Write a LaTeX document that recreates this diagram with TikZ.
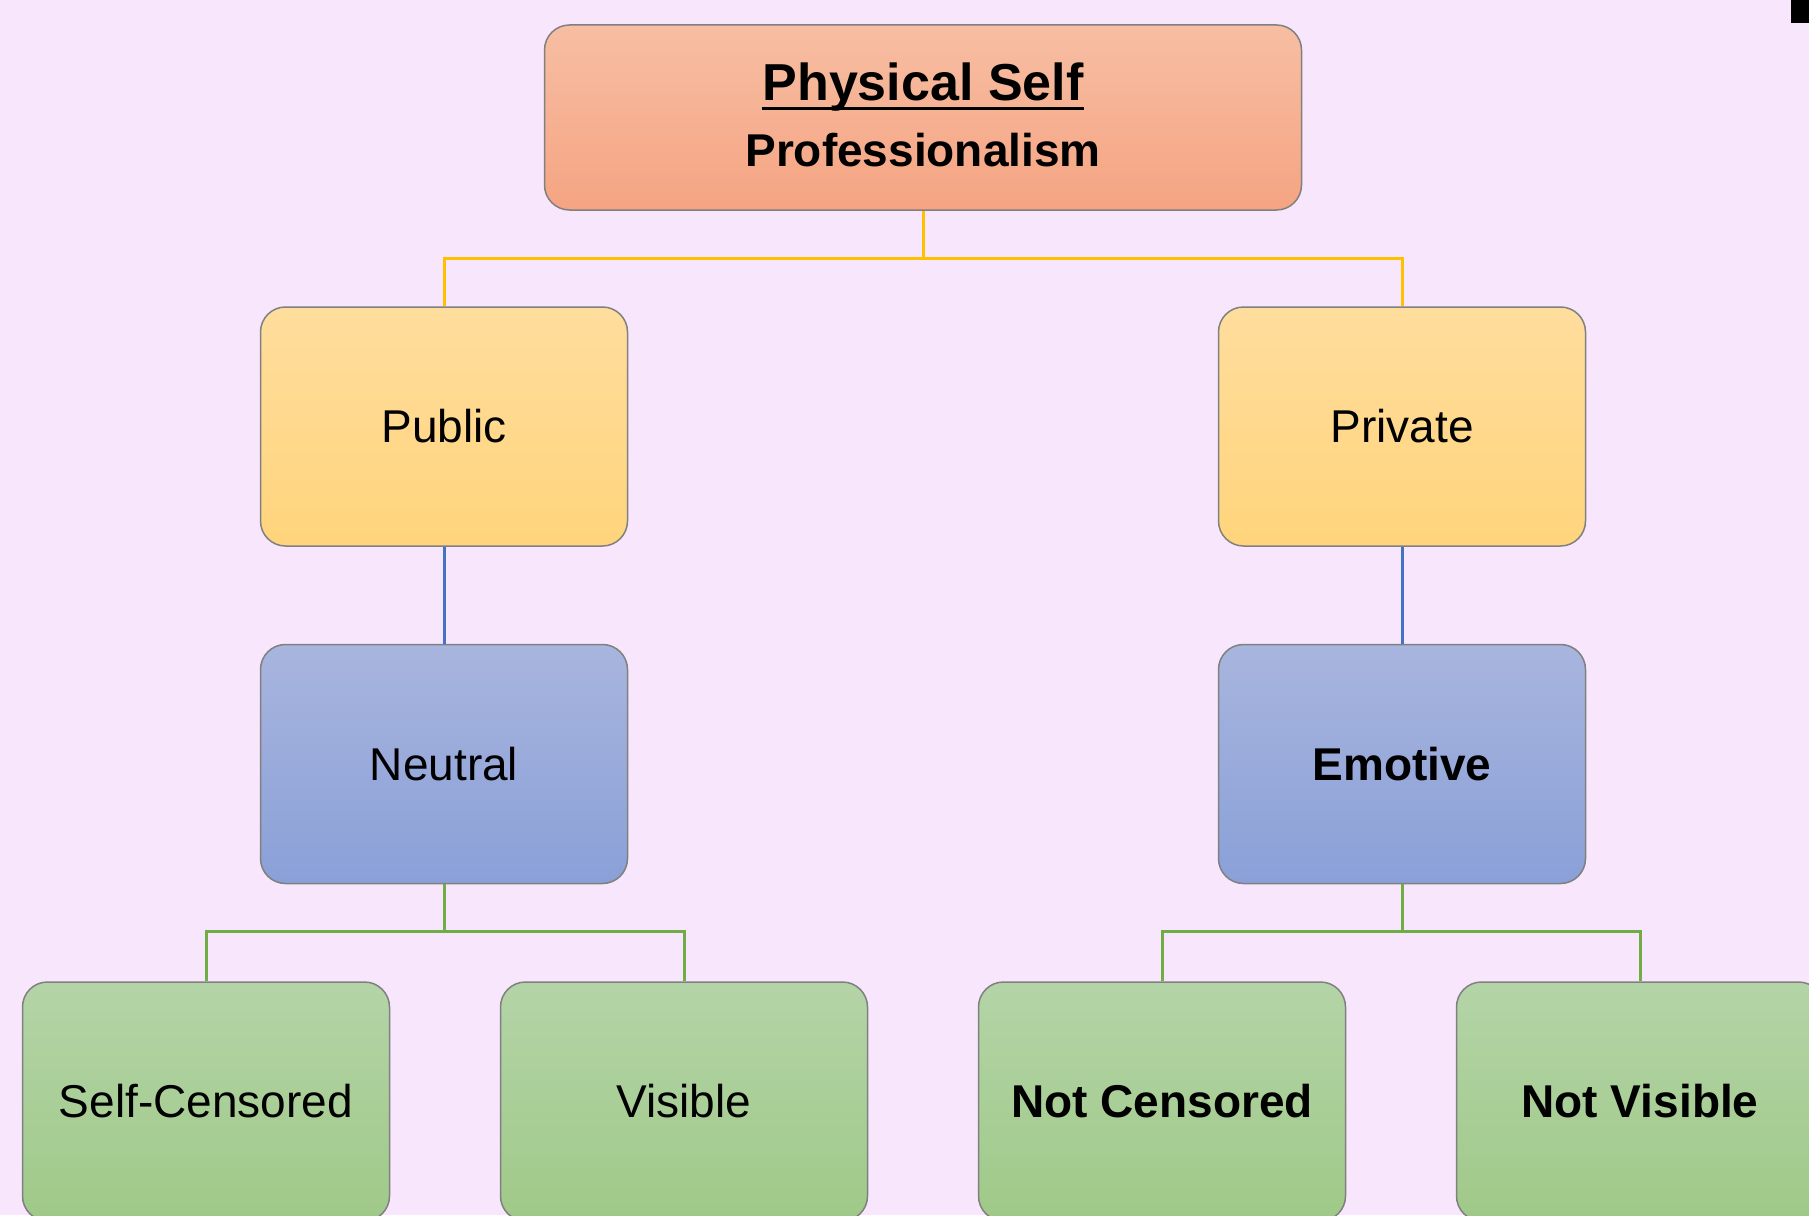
\documentclass[tikz,border=0pt]{standalone}
\usepackage{fontspec}
\setmainfont{Liberation Sans}

\definecolor{sfondo}{HTML}{F8E6FC}
\definecolor{arancioA}{HTML}{F7BEA3}
\definecolor{arancioB}{HTML}{F5A482}
\definecolor{gialloA}{HTML}{FFDD9D}
\definecolor{gialloB}{HTML}{FFD47C}
\definecolor{bluA}{HTML}{A8B5DE}
\definecolor{bluB}{HTML}{8AA0D8}
\definecolor{verdeA}{HTML}{B4D4A7}
\definecolor{verdeB}{HTML}{9FC988}
\definecolor{bordo}{HTML}{808080}
\definecolor{lineaGialla}{HTML}{FFC000}
\definecolor{lineaBlu}{HTML}{4472C4}
\definecolor{lineaVerde}{HTML}{70AD47}

\tikzset{
  scatola/.style={draw=bordo, line width=1.5pt, rounded corners=25pt,
    minimum width=367pt, minimum height=239pt, inner sep=0pt,
    font=\fontsize{46}{55}\selectfont},
  arancio/.style={scatola, top color=arancioA, bottom color=arancioB},
  giallo/.style={scatola, top color=gialloA, bottom color=gialloB},
  blu/.style={scatola, top color=bluA, bottom color=bluB},
  verde/.style={scatola, top color=verdeA, bottom color=verdeB},
  testo/.style={inner sep=0pt, anchor=base},
  filoGiallo/.style={draw=lineaGialla, line width=3pt},
  filoBlu/.style={draw=lineaBlu, line width=3pt},
  filoVerde/.style={draw=lineaVerde, line width=3pt}
}

\begin{document}
\begin{tikzpicture}[x=1pt, y=-1pt]
    % Sfondo
    \fill[sfondo] (0,0) rectangle (1809,1215);
    \useasboundingbox (0,0) rectangle (1809,1215);
    \clip (0,0) rectangle (1809,1215);
    \fill[black] (1791,0) rectangle (1809,23);

    % Nodi
    \node[arancio, minimum width=757pt, minimum height=185pt] (phys) at (923,117.5) {};
    \node[testo, font=\bfseries\fontsize{52}{60}\selectfont] (titolo) at (923,100) {Physical Self};
    \node[testo, font=\bfseries\fontsize{46}{55}\selectfont] (prof) at (923,166) {Professionalism};
    \draw[line width=3pt] ([yshift=-8pt]titolo.base west) -- ([yshift=-8pt]titolo.base east);

    \node[giallo] (pub) at (444,426.5) {Public};
    \node[giallo] (priv) at (1402,426.5) {Private};

    \node[blu] (neu) at (444,764) {Neutral};
    \node[blu, font=\bfseries\fontsize{46}{55}\selectfont] (emo) at (1402,764) {Emotive};

    \node[verde] (selfc) at (206,1101.5) {Self-Censored};
    \node[verde] (vis) at (684,1101.5) {Visible};
    \node[verde, font=\bfseries\fontsize{46}{55}\selectfont] (notc) at (1162,1101.5) {Not Censored};
    \node[verde, font=\bfseries\fontsize{46}{55}\selectfont] (notv) at (1640,1101.5) {Not Visible};

    % Collegamenti
    \draw[filoGiallo] (phys.south) -- ++(0,48) -| (pub.north);
    \draw[filoGiallo] (phys.south) -- ++(0,48) -| (priv.north);
    \draw[filoBlu] (pub) -- (neu);
    \draw[filoBlu] (priv) -- (emo);
    \draw[filoVerde] (neu.south) -- ++(0,47) -| (selfc.north);
    \draw[filoVerde] (neu.south) -- ++(0,47) -| (vis.north);
    \draw[filoVerde] (emo.south) -- ++(0,47) -| (notc.north);
    \draw[filoVerde] (emo.south) -- ++(0,47) -| (notv.north);
\end{tikzpicture}
\end{document}
